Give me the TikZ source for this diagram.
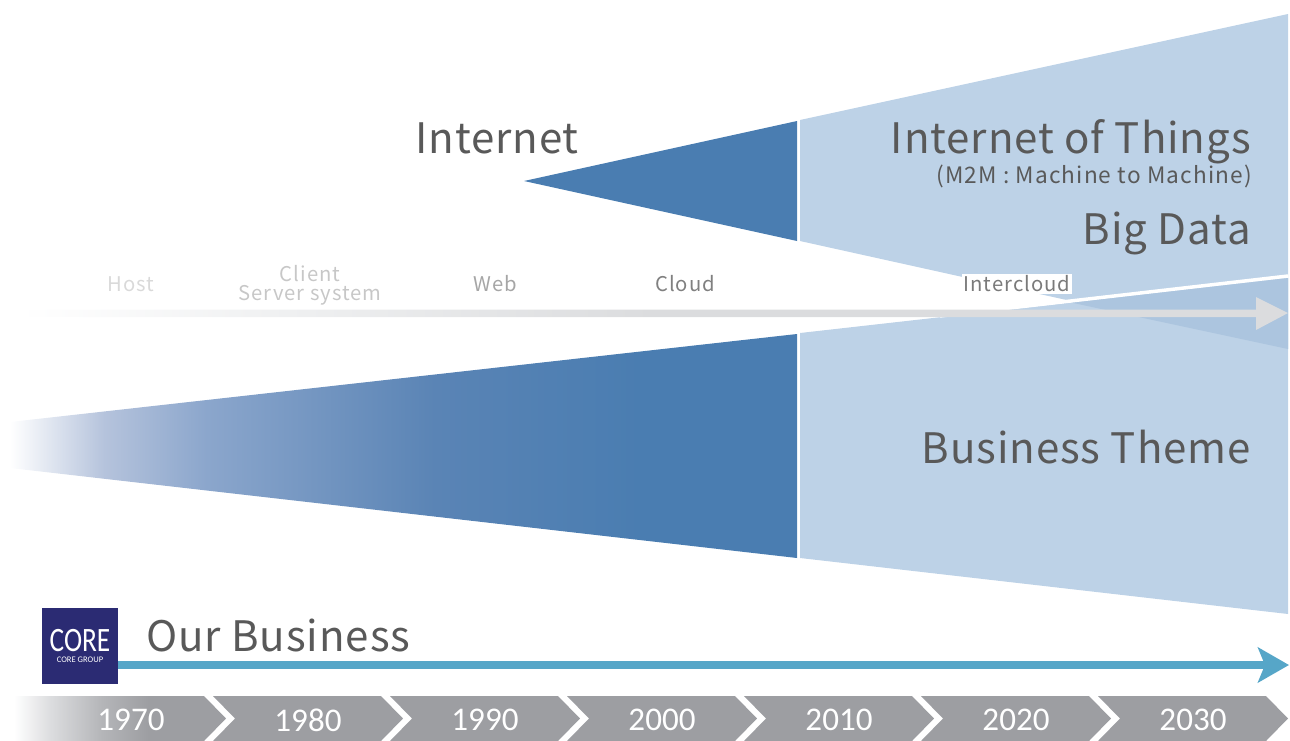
\documentclass[tikz,border=0pt]{standalone}
\usepackage{fontspec}
\usepackage{graphicx}
\usetikzlibrary{arrows.meta}
\setmainfont{Noto Sans CJK JP}
\newfontfamily\bigfont[LetterSpace=2.2]{Noto Sans CJK JP}
\newfontfamily\smallfont[LetterSpace=5]{Noto Sans CJK JP}
\newfontfamily\yearfont{Carlito}
\newfontfamily\logofont{Carlito}
\definecolor{darkblue}{HTML}{4A7DB1}
\definecolor{lightblue}{HTML}{BDD2E7}
\definecolor{overlapblue}{HTML}{ACC5DF}
\definecolor{txt}{HTML}{595959}
\definecolor{arrowgray}{HTML}{DBDCDE}
\definecolor{teal}{HTML}{56A6C8}
\definecolor{chev}{HTML}{9D9EA2}
\definecolor{logoblue}{HTML}{2B2B73}
\definecolor{fadea}{HTML}{B5C3DC}
\definecolor{fadeb}{HTML}{8BA6CC}
\definecolor{fadec}{HTML}{5A84B5}
\definecolor{faded}{HTML}{F0F1F2}
\definecolor{fadee}{HTML}{DDDEE0}
\definecolor{fadef}{HTML}{B5B6B9}
% the picture box fits the central 50bp of the 100bp shading: stops at 25+50t
\pgfdeclarehorizontalshading{themefade}{100bp}{color(0bp)=(white);color(25bp)=(white);color(31bp)=(fadea);color(37.5bp)=(fadeb);color(52bp)=(fadec);color(65bp)=(darkblue);color(100bp)=(darkblue)}
\pgfdeclarehorizontalshading{arrowfade}{100bp}{color(0bp)=(white);color(25.2bp)=(white);color(35bp)=(faded);color(50bp)=(arrowgray);color(100bp)=(arrowgray)}
\pgfdeclarehorizontalshading{chevfade}{100bp}{color(0bp)=(white);color(26bp)=(white);color(34bp)=(fadee);color(46bp)=(fadef);color(57bp)=(chev);color(100bp)=(chev)}
\tikzset{
  big/.style={font=\bigfont\fontsize{31.5pt}{32pt}\selectfont,text=txt,inner sep=0pt,anchor=base east},
  era/.style={font=\smallfont\fontsize{15.2pt}{14.5pt}\selectfont,inner sep=0pt,align=center},
  year/.style={font=\yearfont\fontsize{24.8pt}{24pt}\selectfont,text=white,inner sep=0pt},
  chevron/.style={fill=chev,draw=none},
}
\begin{document}
\begin{tikzpicture}[x=0.75pt,y=-0.75pt]
\useasboundingbox (0,0) rectangle (1290,740);
\clip (0,0) rectangle (1290,740);
% Internet wedge
\fill[darkblue] (524,181) -- (797,121) -- (797,241) -- cycle;
\fill[lightblue] (800,120) -- (1288,14) -- (1288,349) -- (800,241) -- cycle;
% Business theme
\fill[lightblue] (800,333) -- (1288,278) -- (1288,614) -- (800,558) -- cycle;
\fill[overlapblue] (1071,302.5) -- (1288,278) -- (1288,349) -- cycle;
\draw[white,line width=2.6pt] (940,316) -- (1288,276);
\shade[shading=themefade] (10,422) -- (797,334) -- (797,558) -- (10,468) -- cycle;
% era arrow
\shade[shading=arrowfade] (15,309.5) -- (1256,309.5) -- (1256,297) -- (1288,313) -- (1256,330) -- (1256,317) -- (15,317) -- cycle;
% eras
\node[era,text=black!15] (host) at (131,284) {Host};
\node[era,text=black!22] (client) at (310,285) {Client\\Server system};
\node[era,text=black!35] (web) at (495,284) {Web};
\node[era,text=black!50] (cloud) at (685,284) {Cloud};
\node[era,text=black!52,fill=white,inner sep=1pt] (intercloud) at (1017,284) {Intercloud};
% headings
\node[big] (internet) at (579,153) {Internet};
\node[big] (iot) at (1251,153) {Internet of Things};
\node[big,font=\smallfont\fontsize{17pt}{17pt}\selectfont] (m2m) at (1252,183) {(M2M : Machine to Machine)};
\node[big] (bigdata) at (1251,244) {Big Data};
\node[big] (theme) at (1251,463) {Business Theme};
\node[big,anchor=base west] (ours) at (146,651) {Our Business};
% logo
\node[fill=logoblue,minimum size=57pt,inner sep=0pt,anchor=north west] (logo) at (42,608) {};
\node[inner sep=0pt,text=white,font=\logofont\fontsize{20.5pt}{20pt}\selectfont] (coretxt) at (80,640.5) {\scalebox{1}[1.25]{CORE}};
\node[inner sep=0pt,text=white,font=\logofont\fontsize{6.4pt}{6.4pt}\selectfont] (coregroup) at (80,660) {CORE GROUP};
% business arrow
\coordinate (ourend) at (1289,665);
\draw[teal,line width=6pt,shorten <=-0.3pt,-{Stealth[length=23.25pt,width=26.25pt,inset=5.25pt]}] (logo.east |- ourend) -- (ourend);
% timeline
\shade[shading=chevfade] (10,696) -- (204,696) -- (226,718.5) -- (204,741) -- (10,741) -- cycle;
\foreach \i in {0,...,5}{
  \fill[chevron,xshift=\i*132.75pt] (213,696) -- (381,696) -- (403,718.5) -- (381,741) -- (213,741) -- (235,718.5) -- cycle;
}
\node[year] (y70) at (131,720) {1970};
\node[year] (y80) at (308,720) {1980};
\node[year] (y90) at (485,720) {1990};
\node[year] (y00) at (662,720) {2000};
\node[year] (y10) at (839,720) {2010};
\node[year] (y20) at (1016,720) {2020};
\node[year] (y30) at (1193,720) {2030};
\end{tikzpicture}
\end{document}
